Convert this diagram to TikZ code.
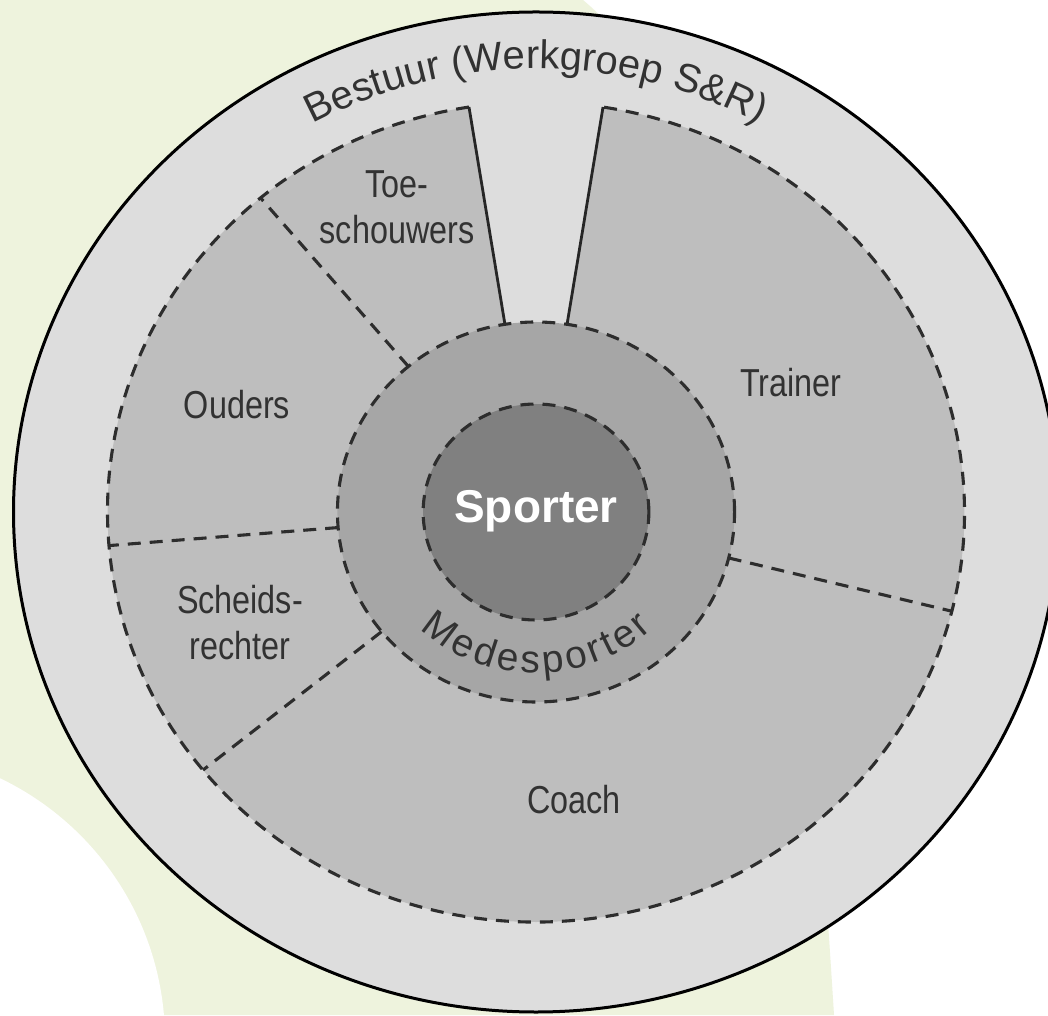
\documentclass[tikz,border=0pt]{standalone}
\usepackage{fontspec}
\setmainfont{Liberation Sans}
\newfontfamily\narrowfont[FakeStretch=0.83]{Liberation Sans}
\usetikzlibrary{decorations.text}

\definecolor{bgreen}{RGB}{238,243,221}
\definecolor{bestuur}{RGB}{221,221,221}
\definecolor{segment}{RGB}{190,190,190}
\definecolor{medesp}{RGB}{166,166,166}
\definecolor{sporter}{RGB}{128,128,128}
\definecolor{inkgray}{RGB}{45,45,45}
\definecolor{txtgray}{RGB}{50,50,50}

\newcommand{\lsp}{\kern3.5pt}

\begin{document}
\begin{tikzpicture}[x=1pt,y=1pt,
    divider/.style={dash pattern=on 13pt off 9pt,line width=3.1pt,color=inkgray},
    gapline/.style={line width=2.8pt,color=black!85},
    seglabel/.style={font=\narrowfont\fontsize{39}{46}\selectfont,text=txtgray,align=center}]
        % Definition
        \pgfmathsetmacro{\sx}{1.045}
        \pgfmathsetmacro{\rsp}{108}
        \pgfmathsetmacro{\rme}{190}
        \pgfmathsetmacro{\rse}{410}
        \pgfmathsetmacro{\rbe}{500}
        \pgfmathsetmacro{\gapa}{81}
        \pgfmathsetmacro{\gapb}{99}

        % Canvas
        \useasboundingbox (0,0) rectangle (1048,1015);
        \clip (0,0) rectangle (1048,1015);
        \fill[white] (0,0) rectangle (1048,1015);
        \fill[bgreen] (0,1015) -- (583,1015) .. controls (780,850) and (815,300) .. (834,0) -- (0,0) -- cycle;
        \fill[white] (-125,-25) circle (290);

        % Coordinates
        \coordinate (C) at (536,503);

        % Draw the rings
        \begin{scope}[shift={(C)},xscale=\sx]
          \draw[fill=bestuur,line width=3pt] (0,0) circle (\rbe);
          \fill[segment] (0,0) circle (\rse);
          \fill[bestuur] (0,0) -- (\gapa:{\rse+6}) arc[start angle=\gapa,end angle=\gapb,radius={\rse+6}] -- cycle;

          % Draw dividers
          \foreach \a in {130,184.7,219,346}
            \draw[divider] (\a:\rme) -- (\a:\rse);
          \draw[divider] (\gapb:\rse) arc[start angle=\gapb,end angle={\gapa+360},radius=\rse];
          \draw[gapline] (\gapa:\rme) -- (\gapa:\rse);
          \draw[gapline] (\gapb:\rme) -- (\gapb:\rse);

          % Draw Medesporter and Sporter
          \draw[divider,fill=medesp] (0,0) circle (\rme);
          \draw[divider,fill=sporter] (0,0) circle (\rsp);
        \end{scope}

        % Labels
        \node[seglabel] (toe) at (397,808) {Toe-\\schouwers};
        \node[seglabel] (ouders) at (237,610) {Ouders};
        \node[seglabel] (scheids) at (240,392) {Scheids-\\rechter};
        \node[seglabel] (trainer) at (791,632) {Trainer};
        \node[seglabel] (coach) at (574,215) {Coach};
        \node[font=\bfseries\fontsize{46}{55}\selectfont,text=white] (sporter) at (536,504) {Sporter};

        % Curved labels
        \path[decorate,decoration={text along path,text align=center,
            text={|\fontsize{40}{48}\selectfont\color{txtgray}|Bestuur (Werkgroep S{\&}R)}}]
          (C) ++(150:{\sx*443} and 443) arc[start angle=150,end angle=30,x radius={\sx*443},y radius=443];
        \path[decorate,decoration={text along path,text align=center,
            text={|\fontsize{39}{46}\selectfont\color{txtgray}|M{\lsp}e{\lsp}d{\lsp}e{\lsp}s{\lsp}p{\lsp}o{\lsp}r{\lsp}t{\lsp}e{\lsp}r}}]
          (C) ++(190:{\sx*161} and 161) arc[start angle=190,end angle=350,x radius={\sx*161},y radius=161];
\end{tikzpicture}
\end{document}
